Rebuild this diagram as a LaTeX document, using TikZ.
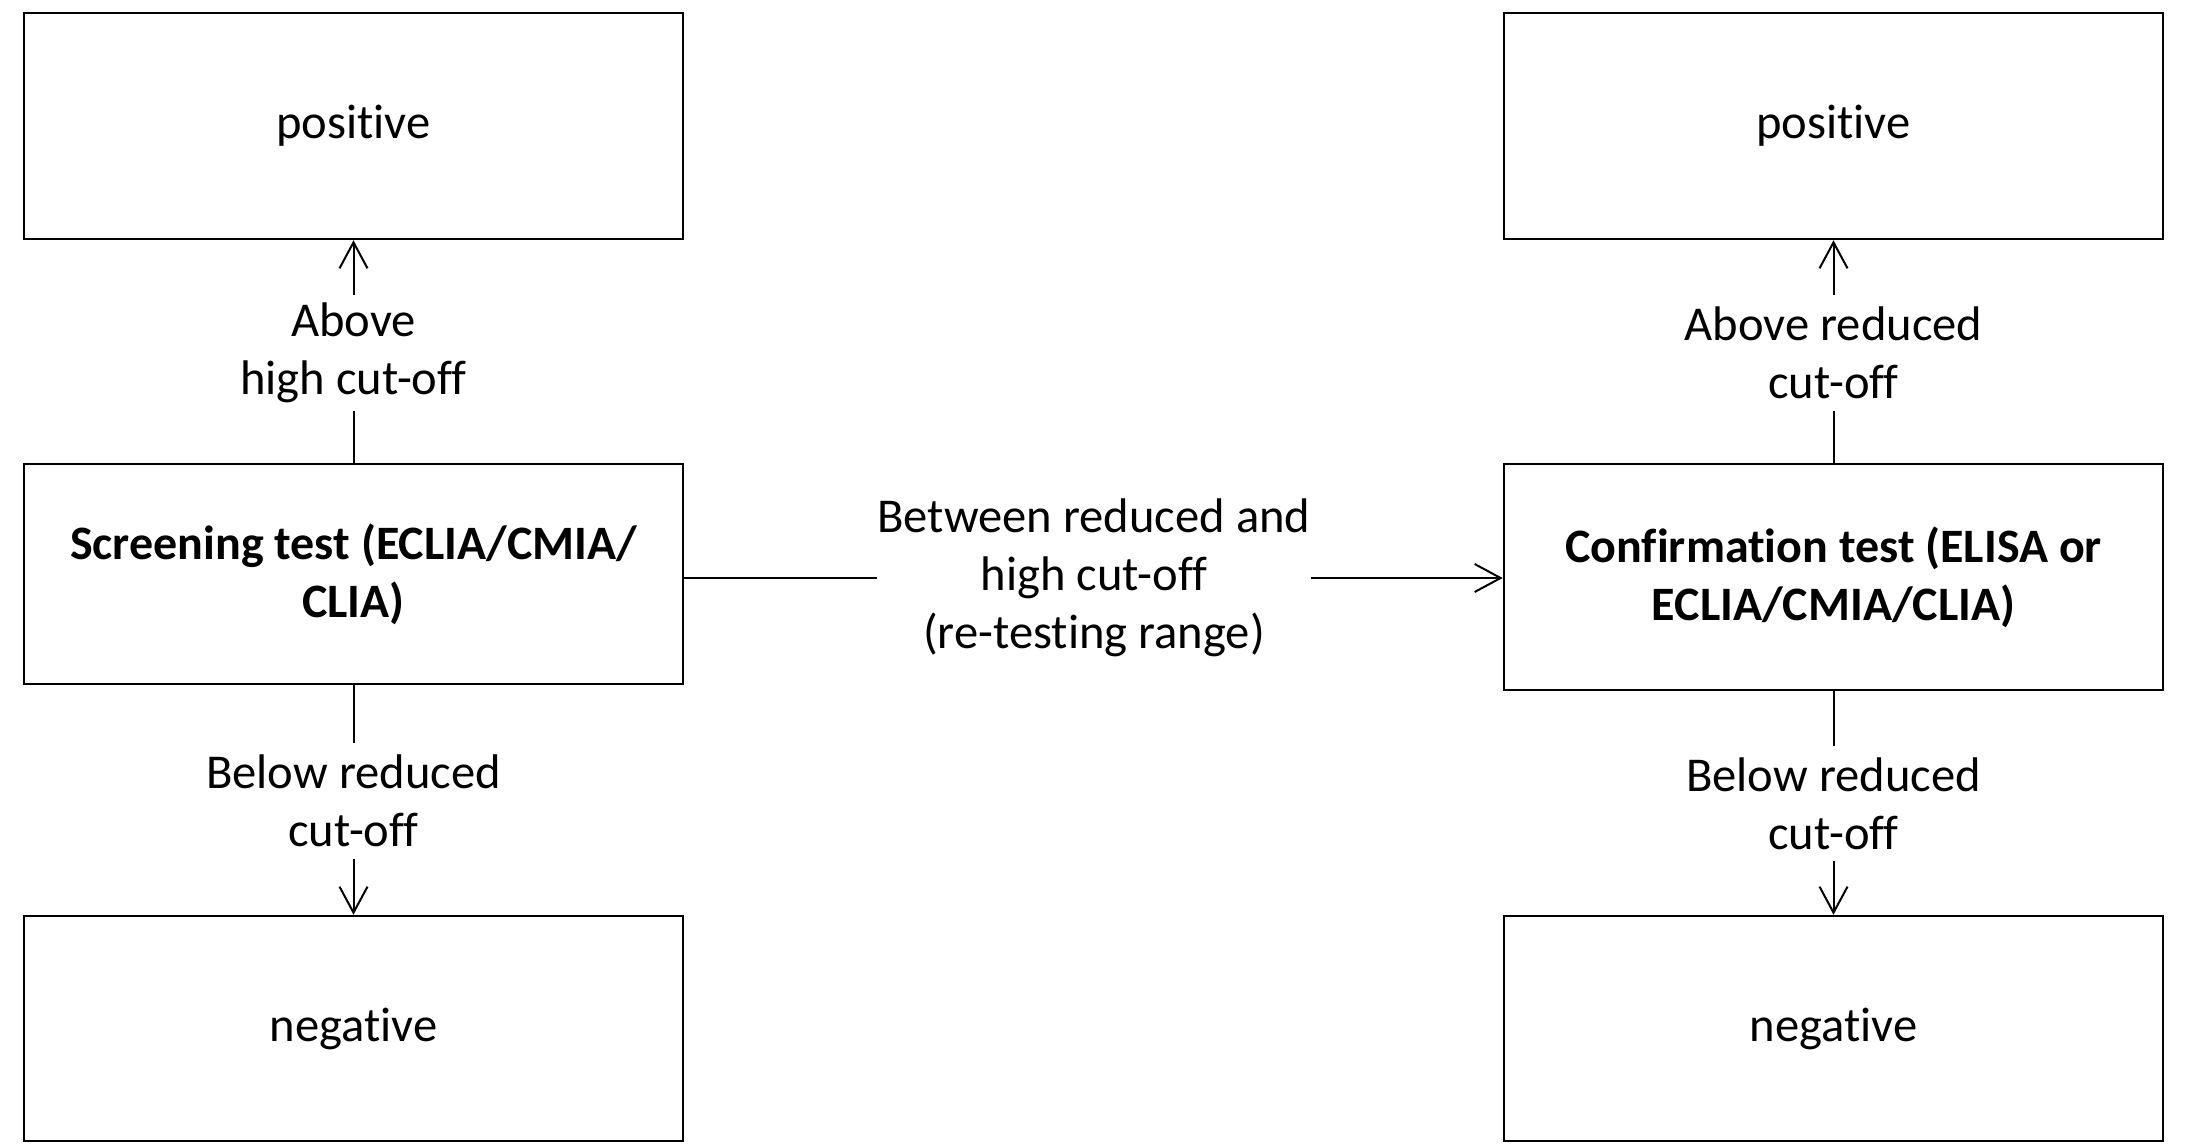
\documentclass[tikz,border=0pt]{standalone}
\usepackage{fontspec}
\setmainfont{Carlito}[Ligatures={NoCommon}]
\usetikzlibrary{arrows.meta}
\begin{document}
\begin{tikzpicture}[x=0.5pt,y=-0.5pt,
  box/.style={draw, line width=1.25pt, minimum width=329.5pt, inner sep=0pt, align=center, font=\fontsize{24.3}{29}\selectfont},
  lab/.style={inner sep=0pt, align=center, font=\fontsize{24.3}{29}\selectfont},
  conn/.style={line width=1pt},
  arr/.style={conn, -{Straight Barb[length=13pt,width=14pt,line width=1pt]}}
]
\useasboundingbox (0,0) rectangle (2188,1144);
% boxes
\node[box, minimum height=113pt] (posL) at (353.5,126) {\raisebox{-1.5pt}{positive}};
\node[box, minimum height=110pt, font=\fontsize{24}{29}\selectfont\bfseries] (scr) at (353.5,574) {Screening test (ECLIA/CMIA/\\CLIA)};
\node[box, minimum height=112.5pt] (negL) at (353.5,1028.5) {\raisebox{-1.5pt}{negative}};
\node[box, minimum height=113pt] (posR) at (1833.5,126) {\raisebox{-1.5pt}{positive}};
\node[box, minimum height=113pt, font=\fontsize{24}{29}\selectfont\bfseries] (conf) at (1833.5,577) {Confirmation test (ELISA or\\ECLIA/CMIA/CLIA)};
\node[box, minimum height=112.5pt] (negR) at (1833.5,1028.5) {\raisebox{-1.5pt}{negative}};
% labels
\node[lab, minimum height=57.5pt] (aboveL) at (353.5,353) {Above\\high cut-off};
\node[lab, minimum height=58pt] (belowL) at (353.5,801) {Below reduced\\cut-off};
\node[lab, minimum height=57.5pt] (aboveR) at (1833.5,353) {Above reduced\\cut-off};
\node[lab, minimum height=57.5pt] (belowR) at (1833.5,803.5) {Below reduced\\cut-off};
\node[lab, minimum width=214pt] (mid) at (1094,578) {Between reduced and\\high cut-off\\(re-testing range)};
% connectors
\draw[conn] (scr.north) -- (aboveL.south);
\draw[arr] (aboveL.north) -- (posL.south);
\draw[conn] (scr.south) -- (belowL.north);
\draw[arr] (belowL.south) -- (negL.north);
\draw[conn] (conf.north) -- (aboveR.south);
\draw[arr] (aboveR.north) -- (posR.south);
\draw[conn] (conf.south) -- (belowR.north);
\draw[arr] (belowR.south) -- (negR.north);
\draw[conn] (scr.east |- mid.west) -- (mid.west);
\draw[arr] (mid.east) -- (conf.west |- mid.east);
\end{tikzpicture}
\end{document}
